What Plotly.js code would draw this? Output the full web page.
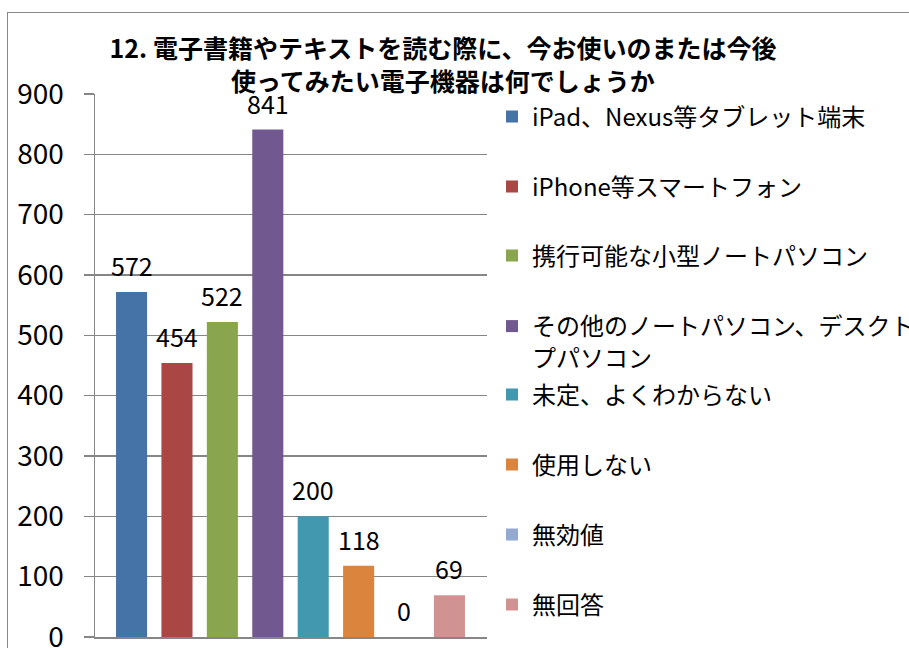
<!DOCTYPE html>
<html><head><meta charset="utf-8">
<script src="https://cdn.plot.ly/plotly-3.0.1.min.js"></script>
<style>
html,body{margin:0;padding:0;overflow:hidden;background:#fff;}
#chart{width:909px;height:648px;position:absolute;left:0;top:0;}
#frame{position:absolute;left:7px;top:12px;width:1000px;height:800px;border:1.5px solid #888;pointer-events:none;}
</style></head><body>
<div id="chart"></div><div id="frame"></div>
<script>
const categories = [
  'iPad、Nexus等タブレット端末',
  'iPhone等スマートフォン',
  '携行可能な小型ノートパソコン',
  'その他のノートパソコン、デスクトッ<br>プパソコン',
  '未定、よくわからない',
  '使用しない',
  '無効値',
  '無回答'
];
const values = [572, 454, 522, 841, 200, 118, 0, 69];
const colors = ['#4572A7', '#AA4643', '#89A54E', '#71588F', '#4198AF', '#DB843D', '#93A9CF', '#D19392'];
const yTicks = [0, 100, 200, 300, 400, 500, 600, 700, 800, 900];
const titleText = '12. 電子書籍やテキストを読む際に、今お使いのまたは今後<br>使ってみたい電子機器は何でしょうか';

// layout helpers (pixel positions of legend entries)
const legendYpx = [117, 187, 256, 342, 395, 465, 535, 605];
const plotTop = 94, plotBottom = 637, plotLeft = 95, plotRight = 487;
const FONT = 'Noto Sans CJK JP, sans-serif';

const traces = categories.map((c, i) => ({
  type: 'bar',
  x: [c],
  y: [values[i]],
  name: c,
  legend: i === 0 ? 'legend' : 'legend' + (i + 1),
  marker: {color: colors[i], line: {width: 0}},
  hoverinfo: 'y+name'
}));

const layout = {
  width: 909, height: 648,
  paper_bgcolor: 'rgba(0,0,0,0)', plot_bgcolor: 'rgba(0,0,0,0)',
  margin: {l: plotLeft, r: 909 - plotRight, t: plotTop, b: 648 - plotBottom, autoexpand: false},
  barmode: 'overlay',
  bargap: 0.316,
  font: {family: FONT, color: '#000'},
  title: {
    text: titleText, xref: 'container', x: 443 / 909, xanchor: 'center',
    yref: 'container', y: 1 - 58 / 648, yanchor: 'middle',
    font: {family: FONT, size: 25, weight: 700, color: '#000'}
  },
  xaxis: {
    type: 'category', range: [-0.805, 7.827], showticklabels: false,
    showline: true, linecolor: '#868686', linewidth: 1.5,
    showgrid: false, zeroline: false, ticks: '', fixedrange: true
  },
  yaxis: {
    range: [0, 900], tickvals: yTicks, ticktext: yTicks.map(String),
    showgrid: true, gridcolor: '#868686', gridwidth: 1.3,
    showline: true, linecolor: '#868686', linewidth: 1.5,
    ticks: 'outside', ticklen: 10, tickcolor: '#868686', tickwidth: 1.3,
    tickfont: {family: FONT, size: 28, color: '#000'},
    ticklabelstandoff: 14, ticklabeloverflow: 'allow',
    zeroline: false, fixedrange: true
  },
  annotations: values.map((v, i) => ({
    x: categories[i], y: v, xref: 'x', yref: 'y',
    text: String(v), showarrow: false, yanchor: 'middle', yshift: 27,
    font: {family: FONT, size: 25, color: '#000'}
  })),
  showlegend: true
};

legendYpx.forEach((py, i) => {
  const key = i === 0 ? 'legend' : 'legend' + (i + 1);
  layout[key] = {
    x: (492 - plotLeft) / (plotRight - plotLeft), xanchor: 'left',
    y: (plotBottom - py) / (plotBottom - plotTop), yanchor: 'middle',
    font: {family: FONT, size: 24, color: '#000'},
    bgcolor: 'rgba(0,0,0,0)', borderwidth: 0, valign: 'top'
  };
});

Plotly.newPlot('chart', traces, layout, {displayModeBar: false, staticPlot: true});
</script>
</body></html>
